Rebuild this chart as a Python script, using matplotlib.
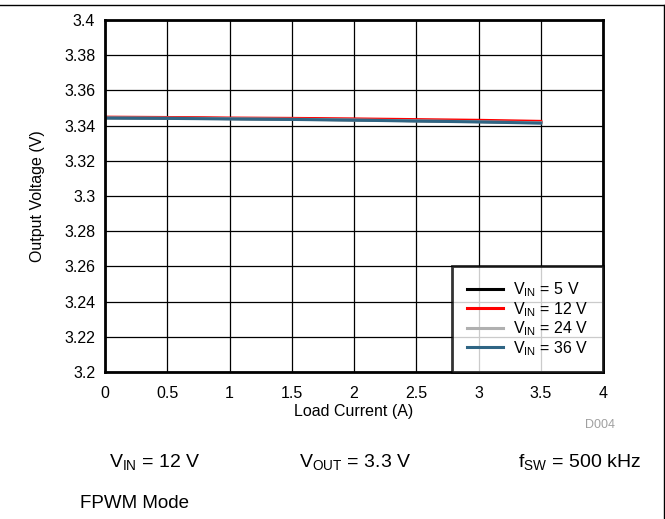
import matplotlib
matplotlib.use("Agg")
import matplotlib.pyplot as plt
from matplotlib.lines import Line2D

plt.rcParams['font.family'] = ['Liberation Sans', 'DejaVu Sans']
plt.rcParams['mathtext.fontset'] = 'custom'
plt.rcParams['mathtext.rm'] = 'Liberation Sans'

load_current = [0, 0.5, 1.0, 1.5, 2.0, 2.5, 3.0, 3.5]
v_5 = [3.3445, 3.3443, 3.3440, 3.3437, 3.3433, 3.3428, 3.3423, 3.3418]
v_12 = [3.3448, 3.3446, 3.3443, 3.3441, 3.3438, 3.3434, 3.3430, 3.3424]
v_24 = [3.3444, 3.3442, 3.3439, 3.3436, 3.3432, 3.3427, 3.3422, 3.3416]
v_36 = [3.3443, 3.3441, 3.3438, 3.3435, 3.3431, 3.3426, 3.3421, 3.3414]
series = [
    (v_5, 'black', r'V$_{\mathregular{IN}}$ = 5 V'),
    (v_12, '#ff0000', r'V$_{\mathregular{IN}}$ = 12 V'),
    (v_24, '#b0b0b0', r'V$_{\mathregular{IN}}$ = 24 V'),
    (v_36, '#2f6584', r'V$_{\mathregular{IN}}$ = 36 V'),
]
xticks = [0, 0.5, 1, 1.5, 2, 2.5, 3, 3.5, 4]
xticklabels = ['0', '0.5', '1', '1.5', '2', '2.5', '3', '3.5', '4']
yticks = [3.2, 3.22, 3.24, 3.26, 3.28, 3.3, 3.32, 3.34, 3.36, 3.38, 3.4]
yticklabels = ['3.2', '3.22', '3.24', '3.26', '3.28', '3.3', '3.32', '3.34', '3.36', '3.38', '3.4']

fig = plt.figure(figsize=(6.65, 5.19), dpi=100)
ax = fig.add_axes([105/665, 1-372/519, 498/665, 352/519])

for vals, col, lab in series:
    ax.plot(load_current, vals, color=col, lw=2.2, label=lab)

ax.set_xlim(0, 4)
ax.set_ylim(3.2, 3.4)
ax.set_xticks(xticks)
ax.set_xticklabels(xticklabels)
ax.set_yticks(yticks)
ax.set_yticklabels(yticklabels)
ax.tick_params(axis='x', length=0, labelsize=11.5, pad=10)
ax.tick_params(axis='y', length=0, labelsize=11.5, pad=7)
ax.grid(True, color='black', lw=0.9)
ax.set_axisbelow(True)
for s in ax.spines.values():
    s.set_linewidth(2)
ax.set_xlabel('Load Current (A)', fontsize=11.5, labelpad=2)
ax.set_ylabel('Output Voltage (V)', fontsize=11.5, labelpad=14)

leg = ax.legend(loc='lower right', fontsize=11.5, frameon=True, fancybox=False,
                borderaxespad=0, handlelength=2.3, labelspacing=0.05,
                borderpad=0.9, handletextpad=0.6)
leg.get_frame().set_edgecolor('black')
leg.get_frame().set_linewidth(2)

fig.text(600/665, 1-425/519, 'D004', color='#a0a0a0', fontsize=9, ha='center', va='center')
fig.text(155/665, 1-463/519, r'V$_{\mathregular{IN}}$ = 12 V', fontsize=14, ha='center', va='center')
fig.text(355/665, 1-463/519, r'V$_{\mathregular{OUT}}$ = 3.3 V', fontsize=14, ha='center', va='center')
fig.text(579/665, 1-463/519, r'f$_{\mathregular{SW}}$ = 500 kHz', fontsize=14, ha='center', va='center')
fig.text(80/665, 1-503/519, 'FPWM Mode', fontsize=13.5, ha='left', va='center')

fig.add_artist(Line2D([0, 663.5/665], [1-5/519, 1-5/519], color='black', lw=1, transform=fig.transFigure))
fig.add_artist(Line2D([663.5/665, 663.5/665], [0, 1-5/519], color='black', lw=1, transform=fig.transFigure))

fig.savefig('out.png', dpi=100)
